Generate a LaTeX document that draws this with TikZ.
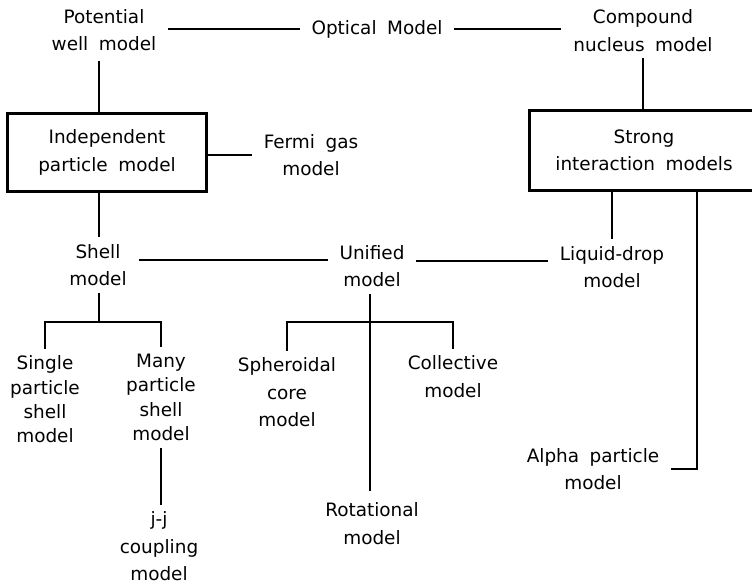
\documentclass[tikz,border=0pt]{standalone}
\usepackage{fontspec}
\setmainfont{DejaVu Sans}[WordSpace=1.8]
\begin{document}
\begin{tikzpicture}[x=1bp,y=-1bp,line width=2pt,
  model/.style={align=center,inner xsep=11pt,inner ysep=6pt,font=\fontsize{18.5}{27.5}\selectfont},
  tall/.style={model,font=\fontsize{18.5}{24.5}\selectfont},
  modelbox/.style={model,draw,line width=3.2pt}]
\useasboundingbox (0,0) rectangle (752,586);
\node[model] (pot) at (104,30) {Potential\\well model};
\node[model] (opt) at (377,29) {Optical Model};
\node[model] (comp) at (643,30.5) {Compound\\nucleus model};
\node[modelbox,minimum width=200,minimum height=79] (indep) at (107,152.5) {Independent\\particle model};
\node[model] (fermi) at (311,155) {Fermi gas\\model};
\node[modelbox,minimum width=230,minimum height=81] (strong) at (644,150.5) {Strong\\interaction models};
\node[model] (shell) at (98,265) {Shell\\model};
\node[model] (unif) at (372,266) {Unified\\model};
\node[model] (liq) at (612,267) {Liquid-drop\\model};
\node[tall] (single) at (45,399.5) {Single\\particle\\shell\\model};
\node[tall] (many) at (161,397.5) {Many\\particle\\shell\\model};
\node[model] (jj) at (159,546.5) {j-j\\coupling\\model};
\node[model] (spher) at (287,392.5) {Spheroidal\\core\\model};
\node[model] (coll) at (453,376.5) {Collective\\model};
\node[model] (rot) at (372,523.5) {Rotational\\model};
\node[model] (alpha) at (593,469) {Alpha particle\\model};
\coordinate (potdrop) at (99,0); \coordinate (alphadrop) at (697,0);
\coordinate (shellfork) at (99,322); \coordinate (unifork) at (370,322);
% top row
\draw (pot.east |- opt.west) -- (opt.west);
\draw (opt.east) -- (opt.east -| comp.west);
\draw ([yshift=-3pt]potdrop |- pot.south) -- (potdrop |- indep.north);
\draw (comp.south) -- (comp.south |- strong.north);
% boxes
\draw (indep.east |- fermi.west) -- (fermi.west);
\draw (potdrop |- indep.south) -- (potdrop |- shell.north);
\draw (liq.north |- strong.south) -- (liq.north);
\draw (alphadrop |- strong.south) |- (alpha.east);
% middle row
\draw ([yshift=5pt]shell.east) -- ([yshift=5pt]shell.east -| unif.west);
\draw ([yshift=5pt]unif.east) -- ([yshift=5pt]unif.east -| liq.west);
% shell tree
\draw (shellfork |- shell.south) -- (shellfork);
\draw (single.north) -- (single.north |- shellfork) -- (many.north |- shellfork) -- (many.north);
\draw (many.south) -- (many.south |- jj.north);
% unified tree
\draw (unifork |- unif.south) -- ([yshift=5pt]unifork |- rot.north);
\draw (spher.north) -- (spher.north |- unifork) -- (coll.north |- unifork) -- (coll.north);
\end{tikzpicture}
\end{document}
